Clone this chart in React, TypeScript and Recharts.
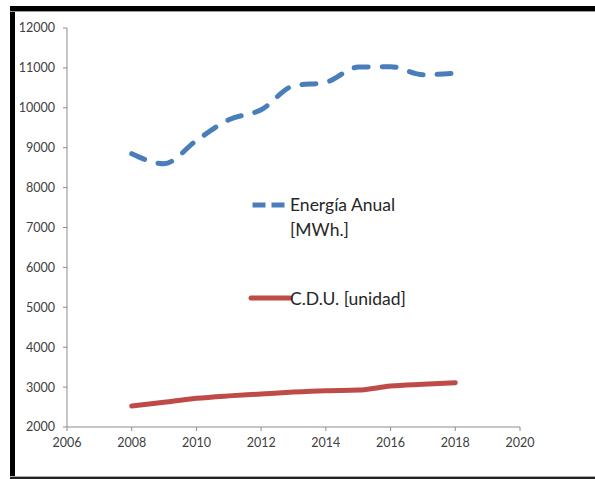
import React from "react";
import { LineChart, Line, XAxis, YAxis, Legend } from "recharts";

const years = [2008, 2009, 2010, 2011, 2012, 2013, 2014, 2015, 2016, 2017, 2018];
const energia = [8850, 8600, 9180, 9700, 9950, 10550, 10640, 11020, 11030, 10830, 10870];
const cdu = [2525, 2620, 2720, 2780, 2825, 2875, 2910, 2925, 3025, 3070, 3110];
const xTicks = [2006, 2008, 2010, 2012, 2014, 2016, 2018, 2020];
const yTicks = [2000, 3000, 4000, 5000, 6000, 7000, 8000, 9000, 10000, 11000, 12000];

const data = years.map((y, i) => ({ year: y, energia: energia[i], cdu: cdu[i] }));

const BLUE = "#4A7EBB";
const RED = "#BE4B48";
const FONT = "Lato, 'Liberation Sans', sans-serif";

const LegendContent = (props: any) => {
  const payload = props.payload || [];
  const e = payload.find((p: any) => p.dataKey === "energia");
  const c = payload.find((p: any) => p.dataKey === "cdu");
  const textStyle: React.CSSProperties = {
    position: "absolute",
    fontFamily: FONT,
    fontSize: 17.5,
    color: "#262626",
    lineHeight: "25px",
    whiteSpace: "nowrap",
  };
  return (
    <div style={{ position: "relative", width: 0, height: 0, overflow: "visible" }}>
      <svg style={{ position: "absolute", left: 0, top: 0, overflow: "visible" }} width={45} height={130}>
        <line x1={2.5} y1={15} x2={37} y2={15} stroke={e ? e.color : BLUE} strokeWidth={5} strokeDasharray="13 6" strokeLinecap="butt" />
        <line x1={1} y1={108} x2={40} y2={108} stroke={c ? c.color : RED} strokeWidth={5} strokeLinecap="round" />
      </svg>
      <div style={{ ...textStyle, left: 40, top: 2 }}>
        Energía Anual
        <br />
        [MWh.]
      </div>
      <div style={{ ...textStyle, left: 40, top: 96 }}>C.D.U. [unidad]</div>
    </div>
  );
};

export default function App() {
  return (
    <div
      style={{
        position: "absolute",
        left: 0,
        top: 0,
        width: 595,
        height: 479,
        background: "#fff",
        overflow: "hidden",
      }}
    >
      <div style={{ position: "absolute", left: 10, top: 6, width: 5, height: 473, background: "#000" }} />
      <div style={{ position: "absolute", left: 10, top: 6, width: 585, height: 5, background: "#000" }} />
      <div style={{ position: "absolute", left: 10, top: 11, width: 585, height: 1, background: "#999" }} />
      <div style={{ position: "absolute", left: 10, top: 476, width: 585, height: 1, background: "#aaa" }} />
      <div style={{ position: "absolute", left: 10, top: 477, width: 585, height: 2, background: "#222" }} />
      <div style={{ position: "absolute", left: 0, top: 0 }}>
        <LineChart
          width={595}
          height={479}
          data={data}
          margin={{ top: 28, right: 75, bottom: 22, left: 0 }}
        >
          <XAxis
            dataKey="year"
            type="number"
            domain={[2006, 2020]}
            ticks={xTicks}
            height={30}
            tickSize={4}
            tickMargin={7}
            stroke="#8c8c8c"
            tick={{ fill: "#404040", fontSize: 12.5, fontFamily: FONT }}
            allowDataOverflow
          />
          <YAxis
            type="number"
            domain={[2000, 12000]}
            ticks={yTicks}
            width={67}
            tickSize={4}
            tickMargin={8}
            stroke="#8c8c8c"
            tick={{ fill: "#404040", fontSize: 12.5, fontFamily: FONT }}
          />
          <Legend
            layout="horizontal"
            verticalAlign="middle"
            align="center"
            content={<LegendContent />}
            wrapperStyle={{ position: "absolute", left: 250, top: 190, width: 0, height: 0 }}
          />
          <Line
            dataKey="energia"
            name="Energía Anual [MWh.]"
            type="monotone"
            stroke={BLUE}
            strokeWidth={5}
            strokeDasharray="14 14"
            strokeLinecap="round"
            dot={false}
            isAnimationActive={false}
          />
          <Line
            dataKey="cdu"
            name="C.D.U. [unidad]"
            type="monotone"
            stroke={RED}
            strokeWidth={5}
            strokeLinecap="round"
            dot={false}
            isAnimationActive={false}
          />
        </LineChart>
      </div>
    </div>
  );
}
